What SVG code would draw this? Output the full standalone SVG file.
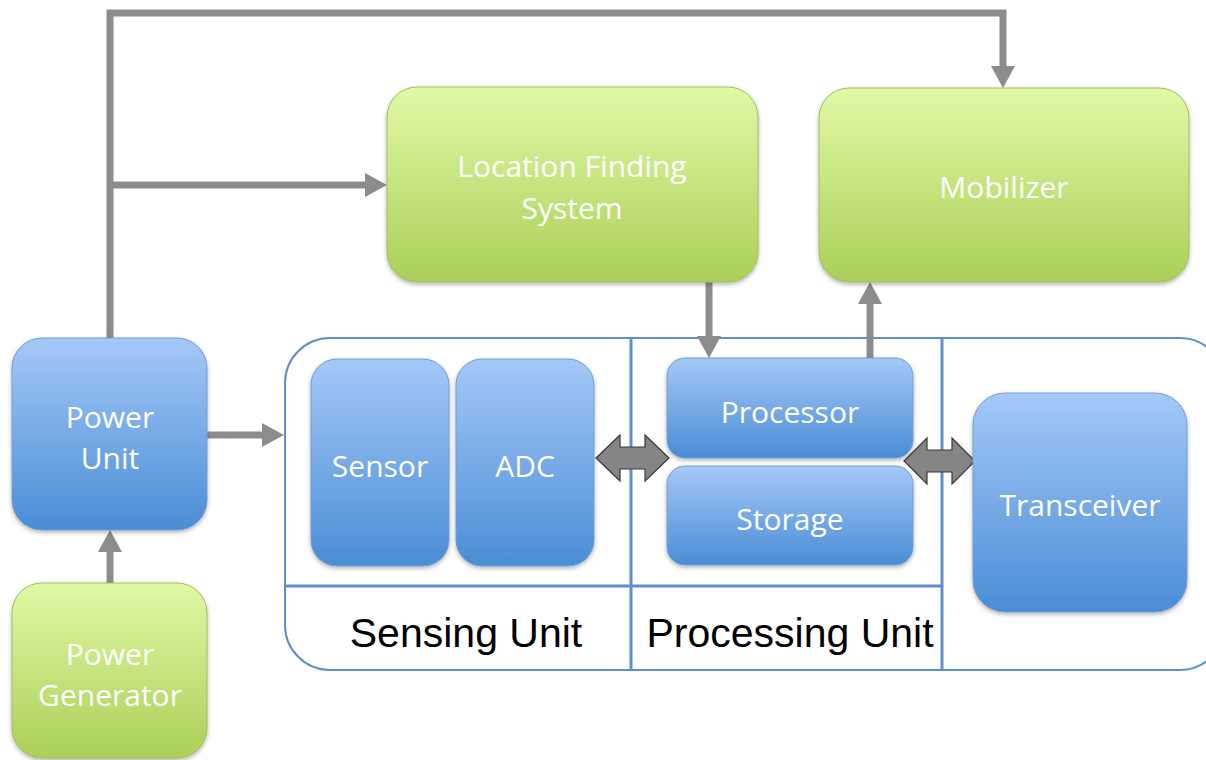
<svg xmlns="http://www.w3.org/2000/svg" width="1206" height="760" viewBox="0 0 1206 760">
<defs>
<linearGradient id="gBlue" x1="0" y1="0" x2="0" y2="1">
<stop offset="0" stop-color="#a5c8f8"/>
<stop offset="1" stop-color="#4a8dd5"/>
</linearGradient>
<linearGradient id="gGreen" x1="0" y1="0" x2="0" y2="1">
<stop offset="0" stop-color="#e0f9a6"/>
<stop offset="1" stop-color="#abcf58"/>
</linearGradient>
<filter id="sh" x="-10%" y="-10%" width="120%" height="130%">
<feDropShadow dx="0" dy="2" stdDeviation="2" flood-color="#000" flood-opacity="0.3"/>
</filter>
<marker id="ah" markerUnits="userSpaceOnUse" markerWidth="22" markerHeight="24" viewBox="0 0 22 24" refX="2" refY="12" orient="auto">
<path d="M0,0 L22,12 L0,24 z" fill="#8c8c8c"/>
</marker>
</defs>
<style>
.blue{fill:url(#gBlue);stroke:#6f9dd3;stroke-width:1;filter:url(#sh)}
.green{fill:url(#gGreen);stroke:#9dbf5e;stroke-width:1;filter:url(#sh)}
.lbl{font-family:"Open Sans",Lato,"Liberation Sans",sans-serif;font-size:30px;fill:#ffffff;text-anchor:middle}
.cap{font-family:"Liberation Sans",Arial,sans-serif;font-size:41px;fill:#000000;text-anchor:middle}
.wire{fill:none;stroke:#8c8c8c;stroke-width:7}
.dbl{fill:#858585;stroke:#3a3a3a;stroke-width:1.2}
.frame{fill:#ffffff;stroke:#5f8fca;stroke-width:2}
.div{stroke:#5f8fca;stroke-width:3}
</style>
<rect width="1206" height="760" fill="#ffffff"/>

<g id="container">
<rect class="frame" x="285" y="338" width="940" height="332" rx="45" ry="45"/>
<line class="div" x1="285" y1="586" x2="942" y2="586"/>
<line class="div" x1="631" y1="338" x2="631" y2="670"/>
<line class="div" x1="942" y1="338" x2="942" y2="670"/>
<text class="cap" x="466" y="647">Sensing Unit</text>
<text class="cap" x="790" y="647" font-size="42">Processing Unit</text>
</g>

<g id="connectors">
<path class="wire" d="M110,338 V13 H1003 V68" marker-end="url(#ah)"/>
<path class="wire" d="M110,185 H367" marker-end="url(#ah)"/>
<path class="wire" d="M709,282 V338" marker-end="url(#ah)"/>
<path class="wire" d="M870,358 V302" marker-end="url(#ah)"/>
<path class="wire" d="M207,435 H264" marker-end="url(#ah)"/>
<path class="wire" d="M110,583 V550" marker-end="url(#ah)"/>
<polygon class="dbl" points="596,458 620,435 620,447 645,447 645,435 669,458 645,481 645,469 620,469 620,481"/>
<polygon class="dbl" points="904,461 927,438 927,450 952,450 952,438 975,461 952,484 952,472 927,472 927,484"/>
</g>

<g id="location">
<rect class="green" x="387" y="87" width="371" height="195" rx="30"/>
<text class="lbl" x="572" y="177">Location Finding</text>
<text class="lbl" x="572" y="219">System</text>
</g>
<g id="mobilizer">
<rect class="green" x="819" y="88" width="370" height="194" rx="30"/>
<text class="lbl" x="1004" y="198">Mobilizer</text>
</g>
<g id="power-unit">
<rect class="blue" x="12" y="338" width="195" height="192" rx="30"/>
<text class="lbl" x="110" y="428">Power</text>
<text class="lbl" x="110" y="469">Unit</text>
</g>
<g id="power-generator">
<rect class="green" x="12" y="583" width="195" height="175" rx="30"/>
<text class="lbl" x="110" y="665">Power</text>
<text class="lbl" x="110" y="706">Generator</text>
</g>
<g id="sensor">
<rect class="blue" x="311" y="359" width="138" height="207" rx="26"/>
<text class="lbl" x="380" y="477">Sensor</text>
</g>
<g id="adc">
<rect class="blue" x="456" y="359" width="138" height="207" rx="26"/>
<text class="lbl" x="525" y="477">ADC</text>
</g>
<g id="processor">
<rect class="blue" x="667" y="358" width="246" height="100" rx="18"/>
<text class="lbl" x="790" y="423">Processor</text>
</g>
<g id="storage">
<rect class="blue" x="667" y="466" width="246" height="99" rx="18"/>
<text class="lbl" x="790" y="530">Storage</text>
</g>
<g id="transceiver">
<rect class="blue" x="973" y="393" width="214" height="219" rx="32"/>
<text class="lbl" x="1080" y="516">Transceiver</text>
</g>
</svg>
